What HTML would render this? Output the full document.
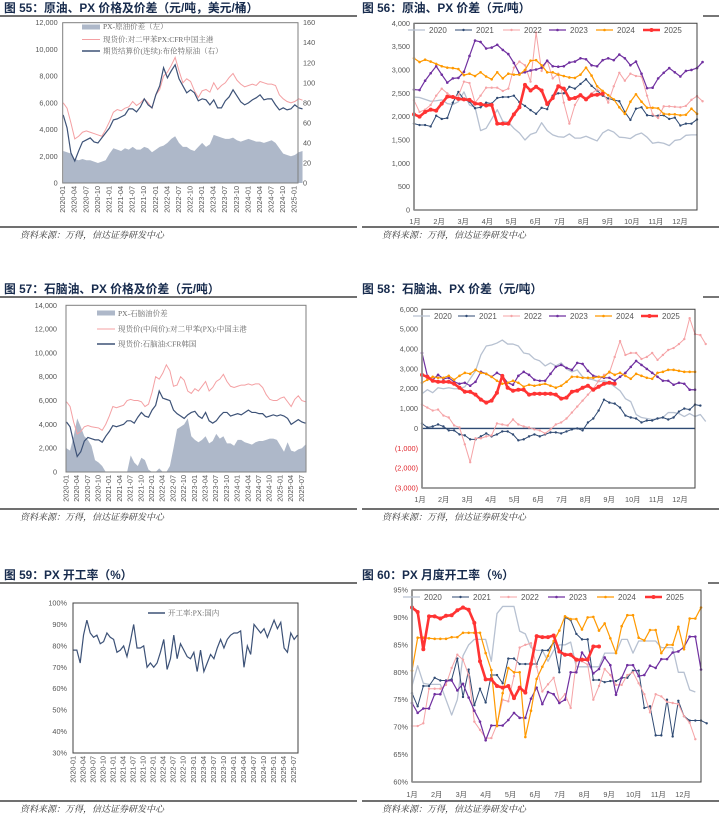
<!DOCTYPE html>
<html><head><meta charset="utf-8">
<style>
html,body{margin:0;padding:0;background:#fff;}
svg{display:block;}
text{font-family:"Liberation Sans","Noto Sans CJK SC",sans-serif;}
.tk{font-size:7.3px;fill:#555;}
.tt{font-size:11.8px;font-weight:bold;fill:#172b4d;}
.src{font-size:9px;font-style:italic;fill:#333;font-family:"Liberation Serif","Noto Serif CJK SC",serif;}
.lg{font-size:7.5px;fill:#666;font-family:"Liberation Serif","Noto Serif CJK SC",serif;}
.lgs{font-size:8px;fill:#555;}
</style></head>
<body>
<svg id="root" width="719" height="815" viewBox="0 0 719 815" xmlns="http://www.w3.org/2000/svg"></svg>
<script>
// ---------- Chart 55 data (monthly, from 2020-01) ----------
const c55Spread=[2400,2300,2200,1800,1700,1800,1700,1700,1600,1500,1600,1700,2200,2600,2500,2400,2600,2500,2700,2500,2500,2700,2600,2300,2500,2700,2800,3000,3300,3500,3000,2700,2700,2500,2400,2700,3000,2700,2900,3600,3500,3400,3300,3300,3400,3200,3100,3200,3300,3200,3100,3100,3000,3100,3200,3000,2600,2200,2100,2000,2100,2300,2400];
const c55PX=[6000,5600,4500,3300,3500,3800,3900,3800,3700,3600,3500,4000,4600,5300,5500,5400,5600,5700,6100,5800,6000,6300,6000,5600,6600,7000,8000,8300,8800,9400,8400,7500,7800,7600,6900,6400,6900,7000,6800,7500,7000,7300,7500,7900,8200,7700,7400,7200,7300,7400,7300,7600,7500,7400,7400,7300,6600,6300,6100,6000,6100,6300,6200];
const c55Brent=[68,55,30,22,32,41,43,45,41,40,45,50,55,63,64,66,68,74,74,71,76,84,78,75,88,97,115,105,112,118,104,97,90,93,90,82,84,83,78,83,75,75,82,86,93,87,81,78,80,83,85,88,83,84,84,78,73,75,73,74,78,75,74];
const c55LeftTicks=[0,2000,4000,6000,8000,10000,12000];
const c55RightTicks=[0,20,40,60,80,100,120,140,160];
const c55XLabels=["2020-01","2020-04","2020-07","2020-10","2021-01","2021-04","2021-07","2021-10","2022-01","2022-04","2022-07","2022-10","2023-01","2023-04","2023-07","2023-10","2024-01","2024-04","2024-07","2024-10","2025-01"];
// ---------- Chart 56 data (weekly) ----------
const c56Years=["2020","2021","2022","2023","2024","2025"];
const c56y2020=[2420,2410,2370,2330,2340,2360,2280,2260,2320,2530,2250,2200,1700,1750,1950,2150,1900,1880,1750,1650,1500,1620,1660,1870,1700,1610,1570,1560,1630,1540,1540,1580,1530,1480,1650,1720,1670,1560,1550,1530,1610,1650,1560,1430,1450,1430,1380,1490,1510,1600,1610,1610];
const c56y2021=[1850,1820,1820,1790,2020,1950,1970,2300,2530,2370,2320,2180,2200,2300,2280,2400,2420,2420,2450,2310,2230,2140,2060,2190,2160,2450,2500,2500,2640,2600,2700,2800,2660,2560,2450,2390,2360,2330,2100,1930,2170,2200,2030,2020,2020,2030,1950,1980,1810,1850,1850,1940];
const c56y2022=[2350,2100,2150,2250,2450,2600,2500,2420,2450,2750,2720,2300,2450,2620,2620,2620,2550,2600,3050,3180,3100,2750,3800,2980,3200,2820,2920,2300,1850,2250,2450,2400,2500,2580,2530,2300,2650,2940,2770,2920,2870,2860,2450,2050,1970,2220,2220,2210,2200,2230,2360,2440,2330];
const c56y2023=[2580,2570,2770,2930,3080,2900,2730,2820,2830,2960,3300,3630,3600,3460,3480,3540,3430,3340,3150,2920,2950,2990,3010,3050,3200,3080,3070,3080,3160,3180,3250,3230,3100,3080,3210,3250,3210,3330,3250,3100,3180,2920,2610,2620,2820,2940,3040,2950,2860,2980,3000,3040,3170];
const c56y2024=[3250,3170,3220,3180,3130,3080,3050,3040,3020,2890,2920,2870,2950,2860,2800,2950,2820,2920,2900,2900,3000,3200,3210,3100,2950,2950,2900,2870,2840,2830,2900,3050,2880,2650,2550,2460,2370,2200,2060,2320,2480,2320,2190,2190,2180,2060,2050,2050,2030,2040,2170,2060];
const c56y2025=[2050,2000,2100,2150,2130,2280,2430,2420,2380,2370,2360,2280,2270,2240,2250,1850,1850,1850,2050,2200,2680,2560,2640,2560,2270,2400,2650,2600,2380,2400,2460,2370,2460,2470,2490];
const c56Ticks=[0,500,1000,1500,2000,2500,3000,3500,4000];
// ---------- Chart 57 data (monthly) ----------
const c57Spread=[2000,1800,3000,4500,3800,3000,2700,2200,1000,800,500,0,0,0,0,0,0,0,1400,800,500,1200,1000,200,0,0,300,0,0,500,2000,3600,3800,4000,4500,3000,2700,2500,2700,3000,2400,2600,3200,2800,3000,2400,2400,2200,2700,2700,2500,2400,2300,2500,2600,2600,2700,2800,2800,2700,2200,1700,2500,1800,1700,1900,2000,2300];
const c57PX=[5900,5500,4200,3200,3400,3800,3900,3800,3750,3700,3500,4000,4700,5500,5400,5500,5600,6000,6100,6000,6000,5900,5500,5700,6700,8000,7800,8300,9000,8500,7200,7300,8000,7700,6800,6600,7000,6800,7200,7600,6800,7100,7600,7800,8200,7600,7200,7100,7200,7300,7300,7400,7300,7400,7400,7100,6500,6100,6000,6000,6200,6300,5900,5500,6100,6400,6000,5900];
const c57Naph=[4200,3800,2500,1300,1700,2600,2900,2800,2700,2700,2500,3000,3400,3900,3800,3900,4000,4300,4300,4100,4600,5000,4700,4600,5200,5600,6800,6200,6100,6000,5200,4900,4700,4500,4800,5000,5100,4700,4500,5000,4300,4100,4300,4700,5000,5000,4700,4800,4900,4800,5000,5200,5000,5000,4900,4900,4600,4700,4800,4700,4800,4700,4500,4000,4200,4400,4200,4100];
const c57Ticks=[0,2000,4000,6000,8000,10000,12000,14000];
const c57XLabels=["2020-01","2020-04","2020-07","2020-10","2021-01","2021-04","2021-07","2021-10","2022-01","2022-04","2022-07","2022-10","2023-01","2023-04","2023-07","2023-10","2024-01","2024-04","2024-07","2024-10","2025-01","2025-04","2025-07"];
// ---------- Chart 58 data (weekly) ----------
const c58y2020=[1750,1950,1800,2050,2000,2050,2000,2000,2100,2500,2900,3700,4150,4200,4300,4450,4250,4250,4150,3800,3750,3500,3400,3150,3300,3150,3300,3000,2850,2950,2600,2500,2450,2350,2400,2300,2100,1900,1500,1350,700,550,500,450,500,550,800,800,750,600,750,600,700,350];
const c58y2021=[250,50,100,200,100,-100,-100,-300,-350,-550,-550,-400,-250,-400,-300,-150,-150,-300,-600,-550,-400,-300,-400,-300,-200,-200,-250,-150,-50,0,-100,300,500,900,1450,1300,1250,1050,650,550,500,300,400,400,500,550,450,550,850,1000,950,1200,1150];
const c58y2022=[1200,1050,900,950,650,550,150,50,-800,-1700,-500,-500,-400,-350,250,200,150,450,200,100,50,-50,-100,-250,-50,200,300,500,800,1100,1400,1700,2000,2400,2700,2800,3600,4400,3700,3800,3800,3500,3600,3800,3450,3700,3950,4050,4250,4500,5550,4750,4700,4250];
const c58y2023=[3800,2650,2450,2700,2500,2550,2350,2250,2300,2150,2350,2850,2750,2600,2800,2650,2300,2200,2650,2850,2700,2450,2400,2400,2750,3100,3200,3050,2950,3300,3250,2900,2650,2600,2550,2550,2400,2600,2800,3100,3400,3200,3000,2800,2600,2400,2400,2200,2300,2250,1950,1950];
const c58y2024=[2300,2450,2600,2550,2550,2650,2450,2650,2800,2750,2950,2800,2750,2600,2400,2250,2300,2400,2300,2100,2200,2150,2200,2250,2150,2050,2150,2350,2600,2600,2550,2550,2550,2600,2600,2850,2700,2800,2650,2500,2750,2650,2550,2500,2800,2850,2950,2950,2900,2850,2850,2850];
const c58y2025=[2700,2600,2400,2350,2350,2350,2250,2050,1850,1850,1700,1450,1300,1400,1800,2650,2050,1900,1950,1950,1700,1750,1750,1750,1750,1700,1500,1550,1850,1900,2050,2150,1950,2100,2250,2300,2250];
const c58Ticks=[-3000,-2000,-1000,0,1000,2000,3000,4000,5000,6000];
// ---------- Chart 59 data (monthly) ----------
const c59Rate=[78,78,72,85,92,86,84,85,81,82,86,84,83,77,78,80,75,82,90,79,79,80,70,72,70,72,77,83,69,74,85,74,81,78,75,74,77,68,78,68,72,76,74,79,83,79,83,85,86,86,87,70,80,76,90,88,86,88,84,88,92,88,91,79,77,86,83,85];
const c59Ticks=[30,40,50,60,70,80,90,100];
// ---------- Chart 60 data (weekly) ----------
const c60y2020=[77.5,81.2,78,77.8,77.8,77.8,75,72.2,75,83,85,86,86,86,82,90.7,92,92,92,87.5,87,84.5,84,84,82,84,85,85,85.5,81,81,81,81,81,83.5,83.5,83.5,86,86,83.5,85.7,85.7,85.7,85.7,84.5,84.5,84.5,80,80,76.8,76.4];
const c60y2021=[76.2,73.8,77.5,77.5,79,78.5,78.5,78.7,82.5,75.5,80.5,74,77,74.5,79.5,79.5,78,82.5,82.5,81.5,81.5,81.5,81.5,84,84,85.5,80,90,89.5,87,86,86,78.6,78.6,78.2,78.4,78.4,79,79,80.3,80.3,73.5,73.8,68.5,68.5,75,68.3,74.8,72,71.2,71.2,71.2,70.7];
const c60y2022=[70.2,70.2,70.7,77,77,77,77.7,80.8,83.2,82.3,79.5,71,69.5,68,68,70.5,75,74.7,79.3,84.5,85,85.3,81,76.5,77.8,79,74.8,76,73.5,82,82,81.4,75,77.5,80.6,79.5,77.7,77.7,79.5,80,78,76,72.7,76,75.6,74.6,74.4,74.2,72,70.8,67.8];
const c60y2023=[74.4,72.6,73.4,73.4,76,76,78.4,78.5,76.7,77.9,75.4,73,71,67.6,70.3,70.3,70.3,71.3,72.6,71.7,71.7,75.2,77.2,74.2,76.4,76,74.4,75,80,80,83.6,82.2,79.8,80.6,82.7,81.3,75.9,79,81.3,81.3,79.3,79.5,81.2,80.8,82.4,82.4,83.6,83.8,84.6,86.5,86.5,80.5];
const c60y2024=[80.3,86.3,86.3,86.2,86.1,86.1,86.1,86.4,86.4,87.2,87.2,87.2,87.2,83.5,80.4,70.2,76.2,80.8,80,80,68.2,73,78.8,81,83,85.7,87.6,90.2,89.7,89.7,87.8,90,90.1,87.6,88.9,86.2,83.5,88.4,90.4,90.4,86.3,85.8,87.7,87.7,83.5,85,85,88.3,84.2,89.8,89.8,91.8];
const c60y2025=[91.8,91,84.2,90.2,90.2,89.8,90.3,90.4,91.3,91.8,91.4,89,82,78.7,78.7,77.5,77.2,77.5,75.3,77.2,76.3,81.5,86.6,86.4,86.4,86.7,83.8,83.2,83.2,82.3,82.3,82.3,84.7,84.7];
const c60Ticks=[60,65,70,75,80,85,90,95];
const monthLabels=["1月","2月","3月","4月","5月","6月","7月","8月","9月","10月","11月","12月"];

const NS="http://www.w3.org/2000/svg";
const root=document.getElementById('root');
function mk(tag,attrs,parent,txt){
  const e=document.createElementNS(NS,tag);
  for(const k in attrs)e.setAttribute(k,attrs[k]);
  if(txt!==undefined)e.textContent=txt;
  (parent||root).appendChild(e);return e;
}
function lin(d0,d1,r0,r1){return v=>r0+(v-d0)*(r1-r0)/(d1-d0);}
function fmt(v){const s=Math.abs(v).toLocaleString('en-US');return v<0?'('+s+')':s;}
function group(name){const g=mk('g',{});return g;}
function pathD(vals,x,y){return vals.map((v,i)=>(i?'L':'M')+x(i).toFixed(2)+','+y(v).toFixed(2)).join('');}

function header(name,title,x,y,ruleX1,ruleX2){
  const t=mk('text',{x:x,y:y,class:'tt'},root,title);
  
  const l=mk('line',{x1:ruleX1,x2:ruleX2,y1:y+4,y2:y+4,stroke:'#1a1a1a','stroke-width':1.2});
  
}
function footer(name,x,y){
  const l=mk('line',{x1:x,x2:x+357,y1:y,y2:y,stroke:'#1a1a1a','stroke-width':1.2});
  
  const t=mk('text',{x:x+20,y:y+11,class:'src'},root,'资料来源：万得，信达证券研发中心');
  
}
function timeLabels(g,labels,x0,stepPerLabel,yb){
  labels.forEach((s,i)=>{
    const xx=x0+i*stepPerLabel;
    const t=mk('text',{x:0,y:0,class:'tk','text-anchor':'end','dominant-baseline':'middle',transform:`translate(${xx.toFixed(2)},${yb+3}) rotate(-90)`},g,s);
    
  });
}

// ================= Chart 55 =================
(function(){
  const g=group('chart-55-crude-px');
  header('chart-55','图 55：原油、PX 价格及价差（元/吨，美元/桶）',4,12,0,357);
  const L=62.7,R=298,T=22.7,B=183;
  const mpx=3.86;
  const x=i=>L+0.5+i*mpx;
  const y=lin(0,12000,B,T), yr=lin(0,160,B,T);
  const area=mk('path',{d:pathD(c55Spread,x,y)+`L${x(c55Spread.length-1)},${B}L${x(0)},${B}Z`,fill:'#aeb8c9'},g);
  
  const p1=mk('path',{d:pathD(c55PX,x,y),fill:'none',stroke:'#f4a0a3','stroke-width':1},g);
  
  const p2=mk('path',{d:pathD(c55Brent,x,yr),fill:'none',stroke:'#3d5277','stroke-width':1.2},g);
  
  const fr=mk('rect',{x:L,y:T,width:R-L,height:B-T,fill:'none',stroke:'#7f7f7f','stroke-width':1},g);
  
  c55LeftTicks.forEach(v=>{const t=mk('text',{x:L-5,y:y(v)+2.5,class:'tk','text-anchor':'end'},g,fmt(v));});
  c55RightTicks.forEach(v=>{const t=mk('text',{x:R+5,y:yr(v)+2.5,class:'tk'},g,String(v));});
  timeLabels(g,c55XLabels,L+0.5,mpx*3,B);
  const lg=mk('g',{},g);
  mk('rect',{x:82,y:24.5,width:18,height:5,fill:'#aeb8c9'},lg);
  mk('text',{x:103,y:29,class:'lg'},lg,'PX-原油价差（左）');
  mk('line',{x1:82,x2:100,y1:39.5,y2:39.5,stroke:'#f4a0a3','stroke-width':1},lg);
  mk('text',{x:103,y:42,class:'lg'},lg,'现货价:对二甲苯PX:CFR中国主港');
  mk('line',{x1:82,x2:100,y1:51,y2:51,stroke:'#3d5277','stroke-width':1.5},lg);
  mk('text',{x:103,y:53.5,class:'lg'},lg,'期货结算价(连续):布伦特原油（右）');
  footer('chart-55',0,227);
})();

// ================= Seasonal chart builder =================
const seasonStyles=[
  {c:'#b7c1d1',w:1.3,r:0},{c:'#2f4a73',w:1,r:1.2},{c:'#f5a3a6',w:1,r:1.2},
  {c:'#7030a0',w:1.2,r:1.3},{c:'#ff9900',w:1.2,r:1.3},{c:'#ff3333',w:2.6,r:2}
];
function seasonal(name,cfg,seriesList,ticks,legendPos){
  const g=group(name);
  const {L,R,T,B,ymin,ymax}=cfg;
  const y=lin(ymin,ymax,B,T);
  const step=(R-L)/51;
  const x=i=>L+i*step;
  if(cfg.zeroLine){const z=mk('line',{x1:L,x2:R,y1:y(0),y2:y(0),stroke:'#2f4a73','stroke-width':1.3},g);}
  seriesList.forEach((vals,k)=>{
    const st=seasonStyles[k];
    const sg=mk('g',{},g);
    
    mk('path',{d:pathD(vals,x,y),fill:'none',stroke:st.c,'stroke-width':st.w,'stroke-linejoin':'round'},sg);
    if(st.r>0)vals.forEach((v,i)=>{const c=mk('circle',{cx:x(i).toFixed(2),cy:y(v).toFixed(2),r:st.r,fill:st.c},sg);});
  });
  const ax=mk('path',{d:`M${L},${T}H${R}V${B}H${L}Z`,fill:'none',stroke:'#404040','stroke-width':1},g);
  
  const la=mk('line',{x1:L,x2:L,y1:T,y2:B,stroke:'#8c8c8c','stroke-width':1.8},g);
  
  ticks.forEach(v=>{const t=mk('text',{x:L-4,y:y(v)+2.5,class:'tk','text-anchor':'end',style:v<0?'fill:#e0282e':''},g,cfg.pct?v+'%':fmt(v));});
  monthLabels.forEach((m,i)=>{const t=mk('text',{x:cfg.m0+i*(cfg.m11-cfg.m0)/11,y:cfg.my,class:'tk','text-anchor':'middle'},g,m);});
  const lg=mk('g',{},g);
  legendPos.forEach((lx,k)=>{
    const st=seasonStyles[k];
    const e=mk('g',{},lg);
    mk('line',{x1:lx,x2:lx+17,y1:cfg.ly,y2:cfg.ly,stroke:st.c,'stroke-width':st.w},e);
    if(st.r>0)mk('circle',{cx:lx+8.5,cy:cfg.ly,r:st.r,fill:st.c},e);
    mk('text',{x:lx+21,y:cfg.ly+2.8,class:'lgs'},e,c56Years[k]);
  });
  return g;
}

// Chart 56
header('chart-56','图 56：原油、PX 价差（元/吨）',362,12,703,719);
seasonal('chart-56-crude-px-spread',{L:414,R:697,T:23.3,B:210,ymin:0,ymax:4000,m0:415,m11:680,my:224,ly:30},
  [c56y2020,c56y2021,c56y2022,c56y2023,c56y2024,c56y2025],c56Ticks,[408,455,503,549,596,643]);
footer('chart-56',362,227);

// ================= Chart 57 =================
(function(){
  const g=group('chart-57-naphtha-px');
  header('chart-57','图 57：石脑油、PX 价格及价差（元/吨）',4,293,0,357);
  const L=66,R=306,T=305.3,B=472;
  const mpx=3.566;
  const x=i=>L+0.5+i*mpx;
  const y=lin(0,14000,B,T);
  const area=mk('path',{d:pathD(c57Spread,x,y)+`L${x(c57Spread.length-1)},${B}L${x(0)},${B}Z`,fill:'#aeb8c9'},g);
  
  const p1=mk('path',{d:pathD(c57PX,x,y),fill:'none',stroke:'#f4a0a3','stroke-width':1},g);
  
  const p2=mk('path',{d:pathD(c57Naph,x,y),fill:'none',stroke:'#3d5277','stroke-width':1.2},g);
  
  const fr=mk('rect',{x:L,y:T,width:R-L,height:B-T,fill:'none',stroke:'#7f7f7f','stroke-width':1},g);
  
  c57Ticks.forEach(v=>{const t=mk('text',{x:L-9,y:y(v)+2.5,class:'tk','text-anchor':'end'},g,fmt(v));});
  timeLabels(g,c57XLabels,L+0.5,mpx*3,B);
  const lg=mk('g',{},g);
  mk('rect',{x:97,y:310.5,width:18,height:5,fill:'#aeb8c9'},lg);
  mk('text',{x:118,y:316,class:'lg'},lg,'PX-石脑油价差');
  mk('line',{x1:97,x2:115,y1:329,y2:329,stroke:'#f4a0a3','stroke-width':1},lg);
  mk('text',{x:118,y:331.5,class:'lg'},lg,'现货价(中间价):对二甲苯(PX):中国主港');
  mk('line',{x1:97,x2:115,y1:344,y2:344,stroke:'#3d5277','stroke-width':1.5},lg);
  mk('text',{x:118,y:346.5,class:'lg'},lg,'现货价:石脑油:CFR韩国');
  footer('chart-57',0,509);
})();

// Chart 58
header('chart-58','图 58：石脑油、PX 价差（元/吨）',362,293,703,719);
seasonal('chart-58-naphtha-px-spread',{L:422,R:695,T:309.3,B:488,ymin:-3000,ymax:6000,m0:420,m11:680,my:502,ly:316,zeroLine:true},
  [c58y2020,c58y2021,c58y2022,c58y2023,c58y2024,c58y2025],c58Ticks,[413,458,503,549,595,641]);
footer('chart-58',362,509);

// ================= Chart 59 =================
(function(){
  const g=group('chart-59-px-operating-rate');
  header('chart-59','图 59：PX 开工率（%）',4,579,0,357);
  const L=73,R=298,T=603,B=753;
  const mpx=3.343;
  const x=i=>L+0.5+i*mpx;
  const y=lin(30,100,B,T);
  const p=mk('path',{d:pathD(c59Rate,x,y),fill:'none',stroke:'#3d5277','stroke-width':1.2},g);
  
  const fr=mk('rect',{x:L,y:T,width:R-L,height:B-T,fill:'none',stroke:'#404040','stroke-width':1},g);
  
  c59Ticks.forEach(v=>{const t=mk('text',{x:L-6,y:y(v)+2.5,class:'tk','text-anchor':'end'},g,v+'%');});
  timeLabels(g,c57XLabels,L+0.5,mpx*3,B);
  const lg=mk('g',{},g);
  mk('line',{x1:148,x2:165,y1:613,y2:613,stroke:'#3d5277','stroke-width':1.5},lg);
  mk('text',{x:168,y:615.5,class:'lg'},lg,'开工率:PX:国内');
  footer('chart-59',0,801);
})();

// Chart 60
header('chart-60','图 60：PX 月度开工率（%）',362,579,708,719);
seasonal('chart-60-px-monthly-rate',{L:412,R:701,T:590,B:782,ymin:60,ymax:95,m0:412,m11:683,my:797,ly:597,pct:true},
  [c60y2020,c60y2021,c60y2022,c60y2023,c60y2024,c60y2025],c60Ticks,[403,452,500,548,597,645]);
footer('chart-60',362,801);
</script>
</body></html>
